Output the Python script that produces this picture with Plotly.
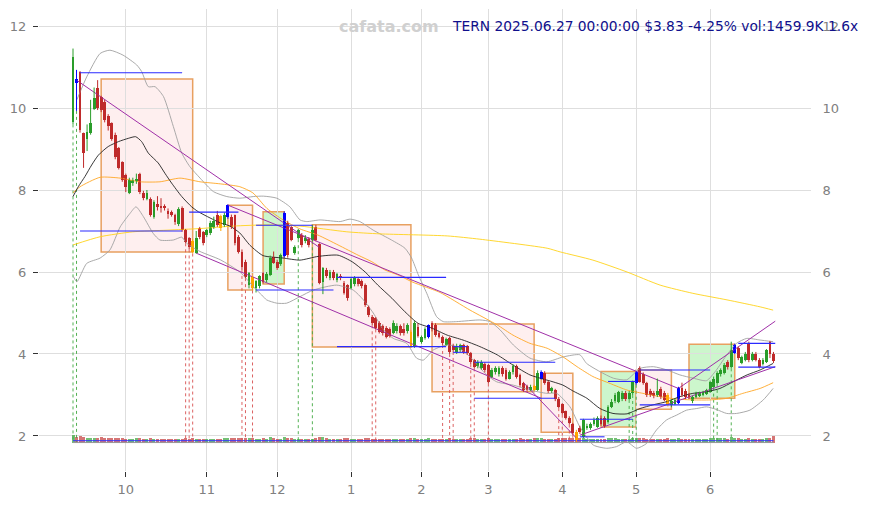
import plotly.graph_objects as go

# ---------------- data ----------------
OPEN = [9.65,10.7,10.88,9.39,9.24,9.39,9.97,10.49,10.27,10.15,
 9.8,9.63,9.34,9.02,8.68,8.37,7.93,8.17,8.22,8.39,
 7.93,7.78,7.78,7.34,7.65,7.62,7.6,7.5,7.47,7.39,
 7.17,7.56,7.02,6.83,6.75,6.46,7.07,6.98,6.9,6.95,
 7.1,7.39,7.37,7.15,7.34,7.34,7.39,6.85,6.49,6.24,
 5.68,5.88,5.6,5.65,5.98,5.8,5.93,6.37,6.24,6.2,
 6.4,7.2,7.1,6.46,6.83,6.9,6.75,6.8,6.78,7.1,
 6.68,5.76,6.05,5.85,6.0,5.8,5.9,5.73,5.68,5.61,
 5.7,5.83,5.78,5.68,5.15,4.9,4.88,4.76,4.68,4.63,
 4.6,4.51,4.55,4.68,4.6,4.55,4.54,4.17,4.65,4.29,
 4.4,4.41,4.75,4.7,4.5,4.41,4.22,4.39,4.2,4.05,
 4.1,4.22,4.2,4.02,3.85,3.7,3.66,3.75,3.73,3.45,
 3.55,3.5,3.66,3.62,3.4,3.55,3.7,3.49,3.29,3.22,
 3.12,3.22,3.12,3.4,3.54,3.32,3.1,3.12,2.9,2.78,
 2.6,2.44,2.29,2.1,2.2,1.98,2.2,2.2,2.3,2.22,
 2.45,2.45,2.34,2.71,2.85,2.83,2.9,3.05,2.9,3.05,
 3.29,3.66,3.5,3.29,3.1,3.05,3.0,3.15,3.05,3.0,
 2.75,2.78,2.8,3.17,3.1,3.0,2.85,2.95,2.98,3.0,
 3.02,3.07,3.2,3.29,3.5,3.54,3.8,3.68,4.02,4.15,
 3.78,3.85,4.27,3.85,4.0,3.85,3.75,3.8,4.29,4.0]

HIGH = [11.45,10.93,10.9,9.4,9.6,10.2,10.5,10.68,10.3,10.2,
 9.85,9.65,9.4,9.05,8.7,8.4,8.3,8.3,8.4,8.42,
 7.98,8.0,7.82,7.75,7.85,7.8,7.65,7.55,7.5,7.42,
 7.58,7.6,7.05,6.85,6.8,7.0,7.1,7.0,7.05,7.25,
 7.35,7.49,7.4,7.45,7.65,7.4,7.4,6.9,6.55,6.3,
 6.0,5.9,5.8,5.92,6.0,6.0,6.4,6.5,6.3,6.45,
 7.48,7.25,7.12,6.65,7.05,6.95,6.9,6.85,7.15,7.15,
 6.7,6.12,6.1,6.05,6.05,5.98,5.95,5.78,5.7,5.88,
 5.9,5.88,5.82,5.72,5.18,4.95,4.9,4.8,4.72,4.68,
 4.65,4.82,4.75,4.72,4.75,4.75,4.58,4.8,4.75,4.45,
 4.65,4.72,4.8,4.75,4.55,4.45,4.4,4.42,4.25,4.25,
 4.25,4.25,4.22,4.05,3.88,3.85,3.85,3.8,3.76,3.66,
 3.7,3.7,3.7,3.66,3.6,3.75,3.74,3.52,3.32,3.25,
 3.25,3.25,3.6,3.6,3.58,3.35,3.2,3.15,2.95,2.8,
 2.62,2.48,2.32,2.15,2.25,2.42,2.3,2.33,2.45,2.48,
 2.5,2.48,2.75,2.9,3.05,3.1,3.1,3.1,3.1,3.35,
 3.58,3.7,3.55,3.32,3.15,3.1,3.4,3.2,3.1,3.05,
 2.9,2.92,3.2,3.3,3.15,3.05,2.98,3.08,3.08,3.1,
 3.15,3.35,3.45,3.58,3.65,3.78,3.85,4.3,4.25,4.18,
 3.96,4.05,4.3,4.05,4.05,3.9,3.9,4.12,4.32,4.05]

LOW = [9.6,9.93,9.4,8.54,8.95,9.35,9.95,9.95,9.9,9.65,
 9.45,9.2,8.75,8.5,8.2,7.95,7.9,8.1,8.15,7.9,
 7.75,7.75,7.35,7.3,7.5,7.45,7.5,7.3,7.35,7.15,
 7.12,6.98,6.7,6.55,6.45,6.45,6.8,6.65,6.85,6.9,
 7.05,7.1,7.0,7.1,7.3,7.05,6.65,6.45,6.05,5.85,
 5.6,5.55,5.5,5.6,5.72,5.75,5.9,6.2,6.05,6.15,
 6.35,6.35,6.75,6.42,6.8,6.6,6.7,6.6,6.75,6.75,
 5.7,5.46,5.85,5.8,5.8,5.75,5.8,5.45,5.3,5.58,
 5.65,5.65,5.6,5.15,4.9,4.7,4.6,4.5,4.45,4.38,
 4.4,4.48,4.5,4.45,4.45,4.5,4.15,4.15,4.4,4.25,
 4.35,4.38,4.55,4.42,4.38,4.22,4.2,4.0,4.05,4.0,
 4.05,4.0,3.98,3.75,3.65,3.65,3.62,3.55,3.28,3.42,
 3.5,3.45,3.45,3.35,3.38,3.5,3.4,3.2,3.08,3.08,
 3.1,3.1,3.1,3.38,3.25,3.05,3.05,2.85,2.68,2.52,
 2.4,2.28,2.03,1.85,2.05,1.95,2.15,2.15,2.25,2.2,
 2.25,2.2,2.3,2.68,2.8,2.8,2.85,2.85,2.88,3.0,
 3.25,3.3,3.25,2.95,2.95,2.92,2.95,2.9,2.85,2.72,
 2.7,2.75,2.78,2.95,2.9,2.9,2.8,2.92,2.95,2.97,
 3.0,3.05,3.18,3.27,3.45,3.5,3.62,3.65,4.0,3.85,
 3.75,3.82,3.8,3.82,3.82,3.65,3.72,3.78,3.9,3.78]

CLOSE = [11.25,10.6,9.46,8.9,9.41,9.63,10.24,10.0,9.95,9.71,
 9.56,9.24,8.8,8.54,8.24,8.07,8.24,8.24,8.28,7.95,
 7.8,7.93,7.39,7.71,7.58,7.55,7.55,7.42,7.4,7.22,
 7.54,7.02,6.73,6.6,6.5,6.83,6.85,6.71,7.02,7.2,
 7.25,7.15,7.07,7.39,7.63,7.1,6.71,6.49,6.12,5.88,
 5.98,5.6,5.78,5.9,5.76,5.95,6.34,6.22,6.1,6.41,
 7.45,6.41,6.78,6.61,7.02,6.66,6.82,6.66,7.02,6.78,
 5.73,6.1,5.9,6.0,5.85,5.95,5.85,5.49,5.37,5.83,
 5.85,5.7,5.65,5.2,4.95,4.76,4.63,4.54,4.5,4.41,
 4.45,4.76,4.68,4.5,4.5,4.7,4.17,4.76,4.45,4.41,
 4.6,4.7,4.6,4.46,4.42,4.27,4.36,4.05,4.1,4.2,
 4.22,4.05,4.02,3.8,3.68,3.8,3.8,3.6,3.32,3.62,
 3.65,3.66,3.5,3.4,3.55,3.7,3.45,3.24,3.12,3.12,
 3.2,3.12,3.54,3.56,3.29,3.1,3.17,2.9,2.71,2.56,
 2.45,2.32,2.07,1.9,2.1,2.39,2.25,2.3,2.4,2.44,
 2.3,2.25,2.71,2.83,3.0,3.07,3.05,2.9,3.05,3.32,
 3.56,3.32,3.3,3.0,3.0,2.98,3.1,2.95,2.88,2.76,
 2.85,2.88,3.17,3.0,2.95,2.95,2.95,3.05,3.05,3.08,
 3.12,3.32,3.4,3.54,3.6,3.73,3.68,4.1,4.22,3.9,
 3.93,4.0,3.85,4.0,3.85,3.68,3.85,4.1,4.0,3.83]

VOLUME_K = [1700,1300,1600,1300,1100,1050,1200,1100,1400,1050,
 1000,1000,1100,1050,1000,950,950,900,1000,1050,
 900,850,1000,900,850,800,800,850,800,850,
 900,950,1000,950,1050,950,900,900,850,900,
 850,900,950,1000,1050,1000,1100,1050,1100,1150,
 1050,1000,950,900,1050,950,1250,1000,900,950,
 1300,1150,1000,900,950,900,850,850,950,1000,
 1400,1250,1050,900,900,850,850,1000,1050,900,
 850,850,900,1100,1050,950,950,900,900,900,
 850,900,850,850,850,900,1100,1200,950,900,
 900,1000,950,950,900,950,900,1000,900,850,
 850,900,900,1000,1000,900,850,900,1050,900,
 850,850,900,950,900,850,950,1000,950,900,
 850,1050,1100,1100,950,950,850,950,1000,1050,
 1050,1100,1150,1300,1100,1200,950,900,950,950,
 950,900,1150,1050,1000,950,900,900,950,1050,
 1100,1100,1000,950,900,900,950,900,900,1000,
 900,900,1050,950,900,850,850,850,850,850,
 900,1000,1000,1050,1000,1050,950,1300,1100,1050,
 950,900,1100,900,900,950,900,1000,1100,1460]

BLUE_DAYS = [1, 44, 60, 101, 133, 160, 172, 188]
ORANGE_DAYS = [34, 42, 51, 96, 131, 143, 169]
RED_MARK_DAYS = [32, 33, 34, 48, 49, 51, 85, 86, 105, 107, 108, 113, 114, 118, 138, 139, 141, 142, 143]
GREEN_MARK_DAYS = [0, 1, 64, 68, 158, 159, 160, 182, 183, 187]

MONTH_TICK_DAYS = [15, 38, 58, 79, 99, 118, 139, 160, 181]
MONTH_TICK_TEXT = ["10", "11", "12", "1", "2", "3", "4", "5", "6"]
PRICE_TICKS = [2, 4, 6, 8, 10, 12]

MA20_X = [0,1.5,3.4,5.3,7.2,10,12.9,15.7,17.8,19.5,21.4,24.2,26.1,28,30.9,33.7,35.6,38.9,41.8,44.6,47.4,50.3,54,59.7,64.5,69.6,75.3,79.3,83,86.6,90.6,94.3,98,102,106.3,110.8,115.6,120.5,125,129.8,132.7,136.4,139.2,142,146,149.7,153.4,157.4,161.1,164.8,168.8,172.4,176.1,180.1,183.8,187.5,191.5,195.2,198.9]
MA20_Y = [7.84,8.08,8.33,8.61,8.85,9.06,9.18,9.26,9.30,9.18,8.90,8.66,8.41,8.17,7.84,7.59,7.47,7.32,7.20,7.12,6.95,6.65,6.40,6.34,6.29,6.38,6.41,6.25,6.00,5.68,5.36,5.03,4.75,4.63,4.46,4.34,4.18,3.98,3.73,3.49,3.41,3.32,3.24,3.10,2.92,2.67,2.55,2.54,2.67,2.76,2.84,2.96,3.04,3.08,3.16,3.32,3.49,3.61,3.77]

MA50_X = [0,2,7.7,13.4,19,24.7,30.4,36.1,41.8,47.4,51.1,55.1,59.7,64.5,69.6,75.3,81,84.9,88.6,92.3,96.3,100,104.3,112.8,120.5,125,129.8,134.7,139.2,143.2,147.7,152.6,157.4,161.9,166.8,171.6,176.1,181,185.8,190.3,195.2,198.9]
MA50_Y = [7.93,8.08,8.31,8.29,8.20,8.20,8.29,8.20,8.15,8.08,7.93,7.55,7.27,7.05,6.90,6.66,6.41,6.25,6.05,5.93,5.76,5.64,5.50,5.07,4.71,4.46,4.26,4.14,3.93,3.69,3.45,3.28,3.12,3.04,2.96,2.90,2.88,2.88,2.92,3.04,3.16,3.30]

MA200_X = [0,7.7,17,26.7,36.1,45.5,55.1,64.5,77.8,87.2,106.3,115.6,134.7,138.4,147.7,157.4,166.8,176.1,185.8,195.2,198.9]
MA200_Y = [6.66,6.86,6.98,7.02,7.06,7.12,7.15,7.12,6.98,6.93,6.88,6.80,6.58,6.49,6.29,6.00,5.68,5.48,5.32,5.15,5.07]

BB_UP_X = [1.1,3.9,7.7,10.5,14.2,18.1,19.5,21.4,23.3,25.7,28.5,30.9,33.2,36.1,39.9,43.7,47.4,51.2,54.1,57.9,61.6,64.5,66.4,70.2,75.9,78.7,81.5,85.3,90.5,94.3,96.2,98.1,100.5,103.3,105.2,109,115.6,118.5,121.3,125.1,129.8,134.6,139.3,144,145.9,149.7,153.5,157.3,161.1,164.9,168.8,172.4,176.2,180,182.7,185.5,188.5,191.4,195.2,198.9]
BB_UP_Y = [10.2,10.76,11.33,11.41,11.29,11.05,10.89,10.52,10.52,10.28,9.55,8.90,8.57,8.29,7.96,7.84,7.80,7.84,7.85,7.80,7.59,7.27,7.23,7.27,7.23,7.29,7.23,7.02,6.78,6.58,6.34,5.93,5.48,4.91,4.79,4.79,4.83,4.79,4.59,4.22,3.90,3.81,3.93,3.98,3.77,3.57,3.41,3.37,3.65,3.69,3.61,3.49,3.41,3.35,3.60,3.95,4.26,4.38,4.34,4.30]

BB_LO_X = [0.1,1.1,3.9,7.7,10.5,13.4,16.2,17.9,20,22.8,24.7,28.5,30.9,32.3,36.1,41.8,47.4,51.7,53.6,55,57.9,60.7,64.5,68.3,74.9,79.6,82.5,85.3,88.2,91,94.8,97.6,99.5,102.4,106.2,109,112.8,117.5,120.4,125.1,129.8,134.6,137.4,141.2,144,147.8,151.6,154.4,157.3,160.1,163,165.8,168.6,171.5,174.3,177.2,180,182.7,185.7,188.5,192.3,196.1,198.9]
BB_LO_Y = [5.89,5.76,6.21,6.34,6.54,7.10,7.43,7.59,7.35,6.94,6.78,6.78,6.85,6.70,6.50,6.30,6.00,5.60,5.44,5.32,5.24,5.24,5.40,5.56,5.68,5.56,5.32,5.00,4.59,4.38,4.26,3.90,3.85,4.10,4.22,4.18,3.93,3.49,3.32,3.24,3.12,3.04,3.04,2.71,2.22,1.78,1.70,1.74,1.86,1.70,1.82,2.15,2.39,2.51,2.63,2.67,2.71,2.65,2.55,2.55,2.63,2.88,3.16]

# trend lines: (day0, price0, day1, price1)
TREND_LINES = [(1, 10.68, 70, 6.60),
               (44, 7.63, 172, 3.16),
               (35, 6.46, 133, 2.92),
               (128, 3.30, 143, 1.95),
               (144, 2.02, 199.5, 3.69),
               (172, 3.16, 199.5, 4.80)]

# horizontal level segments: (day0, day1, price)
LEVELS = [(2, 31, 10.86), (2, 31, 7.00), (33, 47, 7.46), (52, 68, 7.14),
          (52, 74, 5.56), (75, 106, 5.87), (75, 106, 4.18),
          (108, 112, 4.18), (108, 112, 4.04),
          (114, 137, 3.80), (114, 137, 2.92), (144, 159, 2.41), (144, 151, 1.98),
          (152, 160, 3.33), (161, 181, 3.61), (161, 181, 2.76),
          (189, 199.5, 4.26), (189, 199.5, 3.68)]

# boxes: (day0, day1, low, high, kind)
BOXES = [(8, 34, 6.49, 10.71, "down"), (44, 51, 5.56, 7.63, "down"),
         (54, 60, 5.71, 7.47, "up"), (68, 96, 4.17, 7.15, "down"),
         (102, 131, 3.08, 4.73, "down"), (133, 142, 2.09, 3.53, "down"),
         (150, 160, 2.22, 3.57, "up"), (160, 170, 2.65, 3.61, "down"),
         (175, 188, 2.92, 4.24, "up")]

TITLE = "TERN 2025.06.27 00:00:00 $3.83 -4.25% vol:1459.9K 1.6x"
WATERMARK = "cafata.com"

# ---------------- styles ----------------
GREEN = "#2a9d2a"
RED = "#bf2b2b"
BLUE = "#0000ff"
ORANGE = "#ffa500"
VOL_BASE = 1.83
VOL_SCALE = 0.11 / 1000.0

N = len(CLOSE)
days = list(range(N))

fig = go.Figure()

# boxes
for d0, d1, lo, hi, kind in BOXES:
    fill = "rgba(250,190,190,0.25)" if kind == "down" else "rgba(110,230,110,0.35)"
    fig.add_shape(type="rect", xref="x", yref="y", x0=d0, x1=d1, y0=lo, y1=hi,
                  line=dict(color="#e8a060", width=1.5), fillcolor=fill, layer="below")

# volume bars
vcol = []
for i in days:
    vcol.append("rgba(42,157,42,0.65)" if CLOSE[i] >= OPEN[i] else "rgba(191,43,43,0.65)")
fig.add_trace(go.Bar(x=days, y=[v * VOL_SCALE for v in VOLUME_K], base=VOL_BASE,
                     width=0.85, marker=dict(color=vcol, line=dict(width=0)),
                     hoverinfo="skip", showlegend=False))
fig.add_trace(go.Scatter(x=[0, N - 1], y=[1.84, 1.84], mode="lines",
                         line=dict(color="#999999", width=1), hoverinfo="skip", showlegend=False))
fig.add_trace(go.Scatter(x=[0, N - 1], y=[1.885, 1.885], mode="lines",
                         line=dict(color="#3333ff", width=1), hoverinfo="skip", showlegend=False))

# dotted vertical markers
def vlines(ds, color):
    xs, ys = [], []
    for d in ds:
        xs += [d, d, None]
        ys += [LOW[d], 1.86, None]
    fig.add_trace(go.Scatter(x=xs, y=ys, mode="lines",
                             line=dict(color=color, width=0.9, dash="dot"),
                             hoverinfo="skip", showlegend=False))
vlines(RED_MARK_DAYS, "#d85050")
vlines(GREEN_MARK_DAYS, "#40a840")

# bands & averages
def line(xs, ys, color, w=0.9):
    fig.add_trace(go.Scatter(x=xs, y=ys, mode="lines", line=dict(color=color, width=w, shape="spline", smoothing=0.6),
                             hoverinfo="skip", showlegend=False))
line(BB_UP_X, BB_UP_Y, "#a0a0a0")
line(BB_LO_X, BB_LO_Y, "#a0a0a0")
line(MA200_X, MA200_Y, "#ffd21a")
line(MA50_X, MA50_Y, "#ffa726")
line(MA20_X, MA20_Y, "#222222")

# trend lines
for d0, p0, d1, p1 in TREND_LINES:
    fig.add_trace(go.Scatter(x=[d0, d1], y=[p0, p1], mode="lines",
                             line=dict(color="#a030a8", width=1), hoverinfo="skip", showlegend=False))

# candles
def ccolor(i):
    if i in BLUE_DAYS:
        return BLUE
    if i in ORANGE_DAYS:
        return ORANGE
    return GREEN if CLOSE[i] >= OPEN[i] else RED

for col in [GREEN, RED, ORANGE, BLUE]:
    xs, ys = [], []
    for i in days:
        if ccolor(i) == col:
            xs += [i, i, None]
            ys += [LOW[i], HIGH[i], None]
    fig.add_trace(go.Scatter(x=xs, y=ys, mode="lines", line=dict(color=col, width=1),
                             hoverinfo="skip", showlegend=False))

fig.add_trace(go.Bar(x=days,
                     y=[max(abs(CLOSE[i] - OPEN[i]), 0.02) for i in days],
                     base=[min(CLOSE[i], OPEN[i]) for i in days],
                     width=0.8, marker=dict(color=[ccolor(i) for i in days], line=dict(width=0)),
                     hoverinfo="skip", showlegend=False))

# level segments
xs, ys = [], []
for d0, d1, p in LEVELS:
    xs += [d0, d1, None]
    ys += [p, p, None]
fig.add_trace(go.Scatter(x=xs, y=ys, mode="lines", line=dict(color="#2a2aff", width=1.1),
                         hoverinfo="skip", showlegend=False))

# right axis anchor trace
fig.add_trace(go.Scatter(x=[0], y=[5], yaxis="y2", mode="markers", marker=dict(opacity=0),
                         hoverinfo="skip", showlegend=False))

YR = [1.146, 12.415]
tickfont = dict(family="DejaVu Sans", size=13, color="#808080")
fig.update_layout(
    width=869, height=505,
    margin=dict(l=31, r=66, t=1, b=42),
    paper_bgcolor="white", plot_bgcolor="white",
    barmode="overlay", bargap=0,
    showlegend=False,
    xaxis=dict(range=[-9.66, 209.66], tickmode="array", tickvals=MONTH_TICK_DAYS,
               ticktext=MONTH_TICK_TEXT, ticks="outside", ticklen=5, tickcolor="#333333",
               showgrid=True, gridcolor="#dedede", gridwidth=1, zeroline=False,
               showline=False, tickfont=tickfont, ticklabelstandoff=1),
    yaxis=dict(range=YR, tickmode="array", tickvals=PRICE_TICKS, ticks="outside",
               ticklen=5, tickcolor="#333333", showgrid=True, gridcolor="#dedede",
               zeroline=False, showline=False, tickfont=tickfont, ticklabelstandoff=4),
    yaxis2=dict(range=YR, overlaying="y", side="right", tickmode="array",
                tickvals=PRICE_TICKS, ticks="outside", ticklen=8, tickcolor="white",
                showgrid=False, zeroline=False, showline=False, tickfont=tickfont),
    annotations=[
        dict(text=WATERMARK, xref="paper", yref="paper", x=0.453, y=0.963,
             xanchor="center", yanchor="middle", showarrow=False,
             font=dict(family="DejaVu Sans", size=16, color="#d0d0d0", weight="bold")),
        dict(text=TITLE, xref="paper", yref="paper", x=1.064, y=0.963,
             xanchor="right", yanchor="middle", showarrow=False,
             font=dict(family="DejaVu Sans", size=13.8, color="#10108c")),
    ],
)

fig.write_html("out.html")
